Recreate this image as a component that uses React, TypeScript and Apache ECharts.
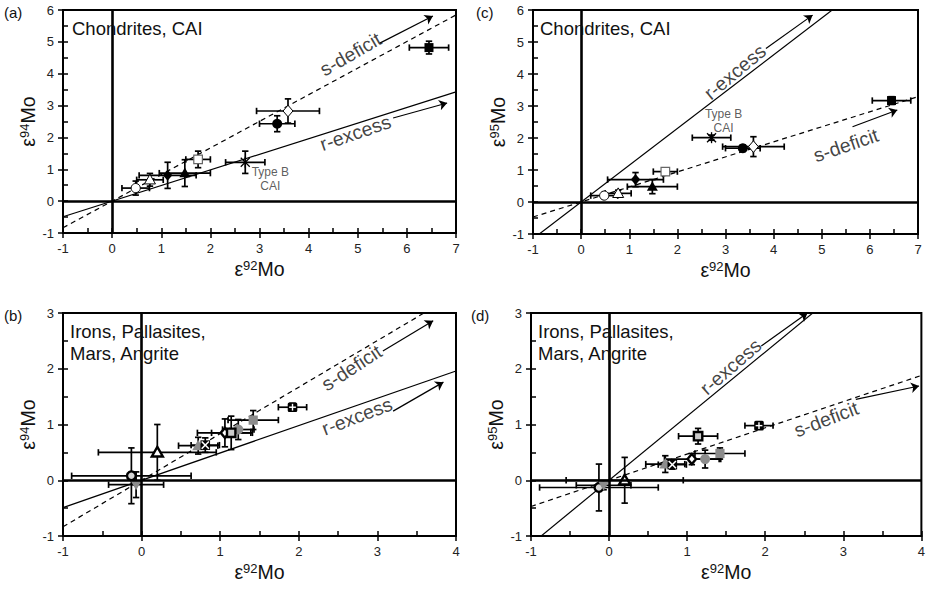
import { useEffect, useRef } from 'react';
import * as echarts from 'echarts';

// ---------- Data: Chondrites, CAI (panels a and c) ----------
const chondriteMarkers = ['openCircle', 'openTriangle', 'filledDiamond', 'filledTriangle', 'openSquare', 'asterisk', 'filledCircle', 'openDiamond', 'filledSquare'];
const chondriteE92 = [0.48, 0.77, 1.13, 1.48, 1.75, 2.71, 3.36, 3.58, 6.45];
const chondriteE92Err = [0.28, 0.27, 0.58, 0.52, 0.25, 0.4, 0.36, 0.64, 0.4];
const chondriteE94 = [0.41, 0.67, 0.81, 0.88, 1.31, 1.22, 2.43, 2.83, 4.82];
const chondriteE94Err = [0.22, 0.2, 0.41, 0.42, 0.26, 0.35, 0.25, 0.38, 0.2];
const chondriteE95 = [0.2, 0.27, 0.7, 0.48, 0.95, 2.01, 1.68, 1.73, 3.17];
const chondriteE95Err = [0.08, 0.1, 0.22, 0.22, 0.1, 0.08, 0.1, 0.31, 0.12];

// ---------- Data: Irons, Pallasites, Mars, Angrite (panels b and d) ----------
const ironMarkers = ['greyCircleRing', 'greyTriangleDown', 'openTriangleThick', 'greyTriangle', 'crossSquare', 'openDiamondThick', 'greyCircle', 'greySquare', 'greySquareRing', 'plusSquare'];
const ironE92 = [-0.13, -0.07, 0.2, 0.72, 0.81, 1.06, 1.23, 1.42, 1.14, 1.92];
const ironE92Err = [0.76, 0.35, 0.75, 0.25, 0.18, 0.35, 0.2, 0.32, 0.25, 0.18];
const ironE94 = [0.08, -0.08, 0.5, 0.62, 0.63, 0.85, 0.91, 1.08, 0.85, 1.31];
const ironE94Err = [0.5, 0.23, 0.5, 0.15, 0.13, 0.25, 0.18, 0.17, 0.3, 0.07];
const ironE95 = [-0.13, -0.09, 0.0, 0.29, 0.28, 0.38, 0.38, 0.48, 0.79, 0.98];
const ironE95Err = [0.42, 0.08, 0.41, 0.15, 0.08, 0.1, 0.16, 0.1, 0.14, 0.05];

// ---------- Reference line slopes ----------
const slopeR94 = 0.49;
const slopeS94 = 0.835;
const slopeR95 = 1.15;
const slopeS95 = 0.47;

// ---------- Axis ranges ----------
const topXRange = [-1, 7];
const topYRange = [-1, 6];
const bottomXRange = [-1, 4];
const bottomYRange = [-1, 3];

const FONT = '"Liberation Sans", Arial, Helvetica, sans-serif';
const BLACK = '#000';
const GREY = '#8c8c8c';

type Pt = number[];

function markerEls(kind: string, cx: number, cy: number): any[] {
  const tri = (s: number, down = false) =>
    down
      ? [[cx - s, cy - s * 0.75], [cx + s, cy - s * 0.75], [cx, cy + s]]
      : [[cx, cy - s], [cx + s, cy + s * 0.75], [cx - s, cy + s * 0.75]];
  const dia = (s: number) => [[cx, cy - s], [cx + s * 0.85, cy], [cx, cy + s], [cx - s * 0.85, cy]];
  const sq = (s: number) => ({ x: cx - s, y: cy - s, width: 2 * s, height: 2 * s });
  switch (kind) {
    case 'openCircle':
      return [{ type: 'circle', shape: { cx, cy, r: 4.6 }, style: { fill: '#fff', stroke: BLACK, lineWidth: 1 } }];
    case 'openTriangle':
      return [{ type: 'polygon', shape: { points: tri(5.5) }, style: { fill: '#fff', stroke: BLACK, lineWidth: 1 } }];
    case 'filledDiamond':
      return [{ type: 'polygon', shape: { points: dia(5.5) }, style: { fill: BLACK } }];
    case 'filledTriangle':
      return [{ type: 'polygon', shape: { points: tri(5.5) }, style: { fill: BLACK } }];
    case 'openSquare':
      return [{ type: 'rect', shape: sq(4.3), style: { fill: '#fff', stroke: '#666', lineWidth: 1.2 } }];
    case 'asterisk':
      return [
        { type: 'line', shape: { x1: cx - 4.5, y1: cy - 4.5, x2: cx + 4.5, y2: cy + 4.5 }, style: { stroke: BLACK, lineWidth: 1.3 } },
        { type: 'line', shape: { x1: cx - 4.5, y1: cy + 4.5, x2: cx + 4.5, y2: cy - 4.5 }, style: { stroke: BLACK, lineWidth: 1.3 } },
        { type: 'line', shape: { x1: cx, y1: cy - 5.5, x2: cx, y2: cy + 5.5 }, style: { stroke: BLACK, lineWidth: 1.3 } },
      ];
    case 'filledCircle':
      return [{ type: 'circle', shape: { cx, cy, r: 5 }, style: { fill: BLACK } }];
    case 'openDiamond':
      return [{ type: 'polygon', shape: { points: dia(5.8) }, style: { fill: '#fff', stroke: BLACK, lineWidth: 1 } }];
    case 'filledSquare':
      return [{ type: 'rect', shape: sq(4.5), style: { fill: BLACK } }];
    case 'greyCircleRing':
      return [{ type: 'circle', shape: { cx, cy, r: 4.4 }, style: { fill: '#d6d6d6', stroke: BLACK, lineWidth: 2.4 } }];
    case 'greyTriangleDown':
      return [{ type: 'polygon', shape: { points: tri(5.5, true) }, style: { fill: GREY } }];
    case 'openTriangleThick':
      return [{ type: 'polygon', shape: { points: tri(5.5) }, style: { fill: '#fff', stroke: BLACK, lineWidth: 2.4 } }];
    case 'greyTriangle':
      return [{ type: 'polygon', shape: { points: tri(6) }, style: { fill: GREY } }];
    case 'crossSquare':
      return [
        { type: 'rect', shape: sq(4.8), style: { fill: BLACK } },
        { type: 'line', shape: { x1: cx - 3.6, y1: cy - 3.6, x2: cx + 3.6, y2: cy + 3.6 }, style: { stroke: '#fff', lineWidth: 1.6 } },
        { type: 'line', shape: { x1: cx - 3.6, y1: cy + 3.6, x2: cx + 3.6, y2: cy - 3.6 }, style: { stroke: '#fff', lineWidth: 1.6 } },
      ];
    case 'openDiamondThick':
      return [{ type: 'polygon', shape: { points: dia(5) }, style: { fill: '#fff', stroke: BLACK, lineWidth: 2.4 } }];
    case 'greyCircle':
      return [{ type: 'circle', shape: { cx, cy, r: 5 }, style: { fill: GREY } }];
    case 'greySquare':
      return [{ type: 'rect', shape: sq(4.6), style: { fill: GREY } }];
    case 'greySquareRing':
      return [{ type: 'rect', shape: sq(4.2), style: { fill: '#cbcbcb', stroke: BLACK, lineWidth: 2.4 } }];
    case 'plusSquare':
      return [
        { type: 'rect', shape: { ...sq(4.8), r: 1.5 }, style: { fill: BLACK } },
        { type: 'line', shape: { x1: cx - 3.4, y1: cy, x2: cx + 3.4, y2: cy }, style: { stroke: '#fff', lineWidth: 1.4 } },
        { type: 'line', shape: { x1: cx, y1: cy - 3.4, x2: cx, y2: cy + 3.4 }, style: { stroke: '#fff', lineWidth: 1.4 } },
      ];
    default:
      return [];
  }
}

interface Panel {
  letter: string;
  title: string;
  titlePos: number[];
  letterPos: number[];
  grid: any;
  xr: number[];
  yr: number[];
  xs: number[];
  xe: number[];
  ys: number[];
  ye: number[];
  markers: string[];
  iso: string;
  rSlope: number;
  sSlope: number;
  arrows: Pt[][];
  labels: { text: string; at: Pt; rotate: number; small?: boolean }[];
}

const panels: Panel[] = [
  {
    letter: '(a)', title: 'Chondrites, CAI', titlePos: [72, 17], letterPos: [4, 5],
    grid: { left: 63, top: 10, width: 393, height: 223 },
    xr: topXRange, yr: topYRange,
    xs: chondriteE92, xe: chondriteE92Err, ys: chondriteE94, ye: chondriteE94Err, markers: chondriteMarkers,
    iso: '94', rSlope: slopeR94, sSlope: slopeS94,
    arrows: [[[5.45, 4.96], [6.53, 5.81]], [[5.72, 2.61], [6.82, 3.08]]],
    labels: [
      { text: 's-deficit', at: [4.85, 4.62], rotate: 30 },
      { text: 'r-excess', at: [4.95, 2.15], rotate: 19 },
      { text: 'Type B\nCAI', at: [3.22, 0.69], rotate: 0, small: true },
    ],
  },
  {
    letter: '(b)', title: 'Irons, Pallasites,\nMars, Angrite', titlePos: [70, 320], letterPos: [4, 308],
    grid: { left: 63, top: 313, width: 393, height: 223 },
    xr: bottomXRange, yr: bottomYRange,
    xs: ironE92, xe: ironE92Err, ys: ironE94, ye: ironE94Err, markers: ironMarkers,
    iso: '94', rSlope: slopeR94, sSlope: slopeS94,
    arrows: [[[3.07, 2.32], [3.71, 2.86]], [[3.2, 1.24], [3.84, 1.76]]],
    labels: [
      { text: 's-deficit', at: [2.67, 2.02], rotate: 33 },
      { text: 'r-excess', at: [2.74, 1.15], rotate: 21 },
    ],
  },
  {
    letter: '(c)', title: 'Chondrites, CAI', titlePos: [540, 17], letterPos: [476, 5],
    grid: { left: 533, top: 10, width: 385, height: 224 },
    xr: topXRange, yr: topYRange,
    xs: chondriteE92, xe: chondriteE92Err, ys: chondriteE95, ye: chondriteE95Err, markers: chondriteMarkers,
    iso: '95', rSlope: slopeR95, sSlope: slopeS95,
    arrows: [[[3.84, 4.8], [4.81, 5.84]], [[5.64, 2.35], [6.57, 2.875]]],
    labels: [
      { text: 'r-excess', at: [3.19, 4.07], rotate: 40 },
      { text: 's-deficit', at: [5.5, 1.78], rotate: 19 },
      { text: 'Type B\nCAI', at: [2.96, 2.53], rotate: 0, small: true },
    ],
  },
  {
    letter: '(d)', title: 'Irons, Pallasites,\nMars, Angrite', titlePos: [538, 320], letterPos: [471, 308],
    grid: { left: 531, top: 313, width: 392, height: 223 },
    xr: bottomXRange, yr: bottomYRange,
    xs: ironE92, xe: ironE92Err, ys: ironE95, ye: ironE95Err, markers: ironMarkers,
    iso: '95', rSlope: slopeR95, sSlope: slopeS95,
    arrows: [[[1.95, 2.41], [2.54, 3.0]], [[3.16, 1.45], [3.97, 1.69]]],
    labels: [
      { text: 'r-excess', at: [1.555, 2.04], rotate: 41 },
      { text: 's-deficit', at: [2.78, 1.1], rotate: 21 },
    ],
  },
];

const nameRich = {
  m: { fontSize: 19.5, fontFamily: FONT, color: '#111' },
  s: { fontSize: 13, fontFamily: FONT, color: '#111', verticalAlign: 'top' },
};

function buildOption() {
  const grids: any[] = [];
  const xAxes: any[] = [];
  const yAxes: any[] = [];
  const series: any[] = [];
  const graphic: any[] = [];

  panels.forEach((p, i) => {
    grids.push({ ...p.grid, show: true, borderColor: BLACK, borderWidth: 2, containLabel: false });
    const axisCommon = {
      gridIndex: i,
      type: 'value',
      splitLine: { show: false },
    };
    xAxes.push({
      ...axisCommon,
      min: p.xr[0], max: p.xr[1], interval: 1, position: 'bottom',
      axisLine: { show: true, onZero: false, lineStyle: { color: BLACK, width: 2 } },
      axisTick: { show: true, inside: false, length: 5, lineStyle: { color: BLACK, width: 1.5 } },
      axisLabel: { fontSize: 13, color: '#222', margin: 9, fontFamily: FONT },
      name: `{m|ε}{s|92}{m|Mo}`,
      nameLocation: 'middle', nameGap: 26,
      nameTextStyle: { rich: nameRich },
    });
    xAxes.push({
      ...axisCommon,
      min: p.xr[0], max: p.xr[1], interval: 0.5, position: 'bottom',
      axisLine: { show: false, onZero: false },
      axisTick: { show: true, inside: true, length: 5, lineStyle: { color: BLACK, width: 1.5 } },
      axisLabel: { show: false },
    });
    yAxes.push({
      ...axisCommon,
      min: p.yr[0], max: p.yr[1], interval: 1, position: 'left',
      axisLine: { show: true, onZero: false, lineStyle: { color: BLACK, width: 2 } },
      axisTick: { show: true, inside: false, length: 5, lineStyle: { color: BLACK, width: 1.5 } },
      axisLabel: { fontSize: 13, color: '#222', margin: 9, fontFamily: FONT },
      name: `{m|ε}{s|${p.iso}}{m|Mo}`,
      nameLocation: 'middle', nameGap: 25, nameRotate: 90,
      nameTextStyle: { rich: nameRich },
    });
    yAxes.push({
      ...axisCommon,
      min: p.yr[0], max: p.yr[1], interval: 0.5, position: 'left',
      axisLine: { show: false, onZero: false },
      axisTick: { show: true, inside: true, length: 5, lineStyle: { color: BLACK, width: 1.5 } },
      axisLabel: { show: false },
    });

    const xi = 2 * i;
    const yi = 2 * i;
    const [x0, x1] = p.xr;
    const [y0, y1] = p.yr;

    series.push({
      type: 'line', xAxisIndex: xi, yAxisIndex: yi, silent: true, showSymbol: false, symbol: 'none',
      data: [[x0, p.rSlope * x0], [x1, p.rSlope * x1]],
      lineStyle: { color: BLACK, width: 1.2 }, clip: true, z: 2,
      markLine: {
        silent: true, symbol: 'none', label: { show: false },
        lineStyle: { color: BLACK, width: 2.6, type: 'solid' },
        data: [
          [{ coord: [0, y0] }, { coord: [0, y1] }],
          [{ coord: [x0, 0] }, { coord: [x1, 0] }],
        ],
      },
    });
    series.push({
      type: 'line', xAxisIndex: xi, yAxisIndex: yi, silent: true, showSymbol: false, symbol: 'none',
      data: [[x0, p.sSlope * x0], [x1, p.sSlope * x1]],
      lineStyle: { color: BLACK, width: 1.2, type: [5, 4] }, clip: true, z: 2,
    });
    series.push({
      type: 'lines', coordinateSystem: 'cartesian2d', xAxisIndex: xi, yAxisIndex: yi, silent: true,
      symbol: ['none', 'arrow'], symbolSize: 8,
      lineStyle: { color: BLACK, width: 1.2, opacity: 1 },
      data: p.arrows.map((a) => ({ coords: a })), z: 2,
    });

    const pts = p.xs.map((x, k) => [x, p.ys[k], p.xe[k], p.ye[k]]);
    series.push({
      type: 'custom', xAxisIndex: xi, yAxisIndex: yi, silent: true, clip: false, z: 3,
      data: pts,
      encode: { x: 0, y: 1 },
      renderItem: (params: any, api: any) => {
        const x = api.value(0), y = api.value(1), ex = api.value(2), ey = api.value(3);
        const c = api.coord([x, y]);
        const l = api.coord([x - ex, y]);
        const r = api.coord([x + ex, y]);
        const t = api.coord([x, y + ey]);
        const b = api.coord([x, y - ey]);
        const cap = 3.2;
        const st = { stroke: BLACK, lineWidth: 1.7 };
        return {
          type: 'group',
          children: [
            { type: 'line', shape: { x1: l[0], y1: c[1], x2: r[0], y2: c[1] }, style: st },
            { type: 'line', shape: { x1: l[0], y1: c[1] - cap, x2: l[0], y2: c[1] + cap }, style: st },
            { type: 'line', shape: { x1: r[0], y1: c[1] - cap, x2: r[0], y2: c[1] + cap }, style: st },
            { type: 'line', shape: { x1: c[0], y1: t[1], x2: c[0], y2: b[1] }, style: st },
            { type: 'line', shape: { x1: c[0] - cap, y1: t[1], x2: c[0] + cap, y2: t[1] }, style: st },
            { type: 'line', shape: { x1: c[0] - cap, y1: b[1], x2: c[0] + cap, y2: b[1] }, style: st },
          ],
        };
      },
    });
    const markers = p.markers;
    series.push({
      type: 'custom', xAxisIndex: xi, yAxisIndex: yi, silent: true, clip: false, z: 4,
      data: pts,
      encode: { x: 0, y: 1 },
      renderItem: (params: any, api: any) => {
        const c = api.coord([api.value(0), api.value(1)]);
        return { type: 'group', children: markerEls(markers[params.dataIndex], c[0], c[1]) };
      },
    });
    series.push({
      type: 'scatter', xAxisIndex: xi, yAxisIndex: yi, silent: true, symbolSize: 1, z: 5,
      itemStyle: { color: 'rgba(0,0,0,0)' },
      data: p.labels.map((lb) => ({
        value: lb.at,
        label: {
          show: true, position: 'inside', formatter: lb.text, rotate: lb.rotate,
          fontSize: lb.small ? 12 : 19.5, lineHeight: lb.small ? 14 : 22,
          color: lb.small ? '#333' : '#111', fontFamily: FONT, align: 'center',
        },
      })),
    });

    graphic.push({
      type: 'text', left: p.letterPos[0], top: p.letterPos[1], silent: true,
      style: { text: p.letter, fontSize: 15, fontFamily: FONT, fill: '#111' },
    });
    graphic.push({
      type: 'text', left: p.titlePos[0], top: p.titlePos[1], silent: true, z: 10,
      style: { text: p.title, fontSize: 18.5, lineHeight: 22, fontFamily: FONT, fill: '#111' },
    });
  });

  return {
    animation: false,
    backgroundColor: '#fff',
    grid: grids,
    xAxis: xAxes,
    yAxis: yAxes,
    series,
    graphic,
  };
}

export default function App() {
  const ref = useRef<HTMLDivElement>(null);
  useEffect(() => {
    document.body.style.margin = '0';
    if (!ref.current) return;
    const chart = echarts.init(ref.current, undefined, { renderer: 'svg' });
    chart.setOption(buildOption() as any);
    return () => chart.dispose();
  }, []);
  return <div ref={ref} style={{ width: 928, height: 592 }} />;
}
